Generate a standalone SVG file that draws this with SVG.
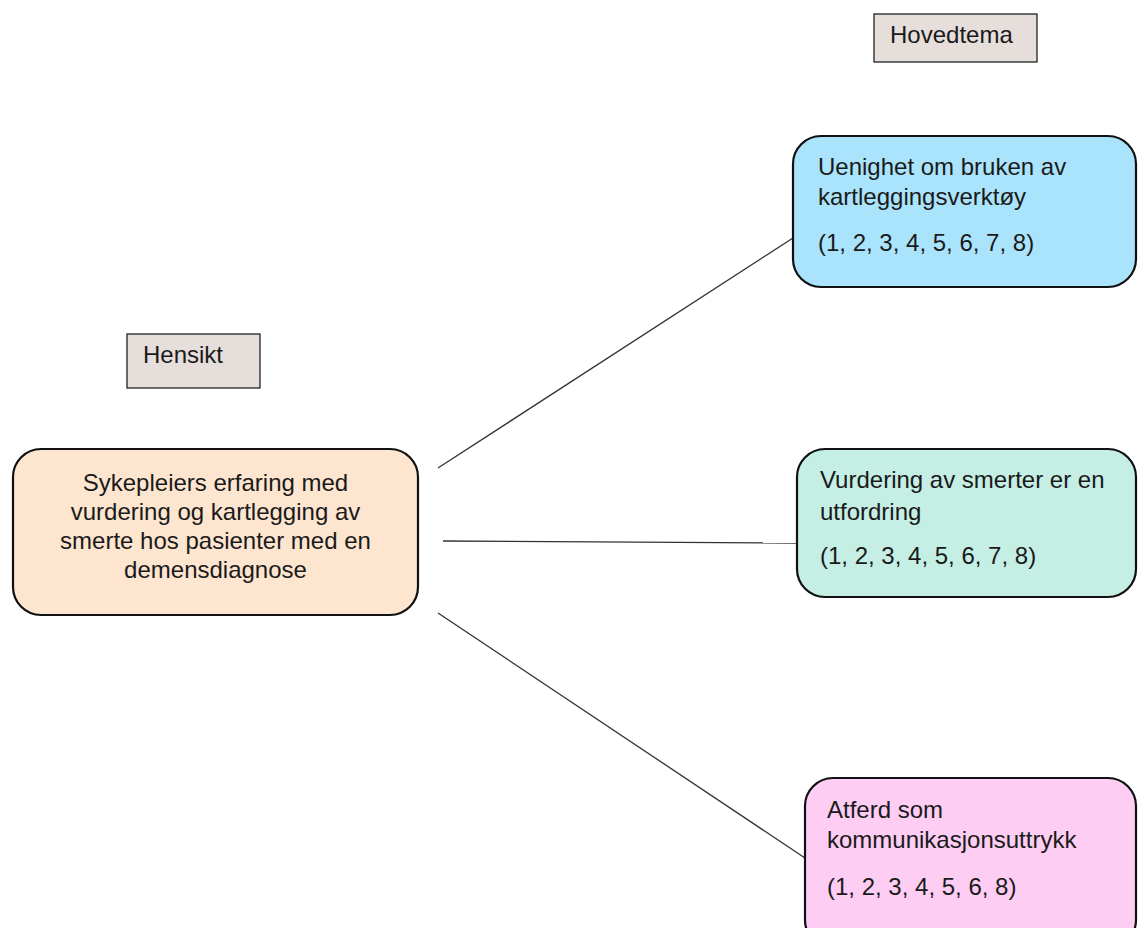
<svg xmlns="http://www.w3.org/2000/svg" width="1138" height="928" viewBox="0 0 1138 928">
<style>
.t{font-family:"Liberation Sans",Arial,sans-serif;font-size:24px;fill:#1a1a1a}
.lbl{fill:#e6dedb;stroke:#222;stroke-width:1.3}
.node{stroke:#111;stroke-width:2.2}
.conn line{stroke:#333;stroke-width:1.3}
</style>
<rect width="1138" height="928" fill="#fff"/>
<g class="conn" id="connectors">
<line x1="438" y1="468" x2="793" y2="238"/>
<line x1="443" y1="541" x2="797" y2="543"/>
<line x1="438" y1="613" x2="805" y2="858"/>
</g>
<g id="hovedtema">
<rect class="lbl" x="874" y="14" width="163" height="48"/>
<text class="t" x="890" y="43">Hovedtema</text>
</g>
<g id="hensikt">
<rect class="lbl" x="127" y="334" width="133" height="54"/>
<text class="t" x="143" y="363">Hensikt</text>
</g>
<g id="main">
<rect class="node" x="13" y="449" width="405" height="166" rx="28" fill="#fde5cf"/>
<text class="t" text-anchor="middle" x="215.5" y="491">Sykepleiers erfaring med</text>
<text class="t" text-anchor="middle" x="215.5" y="520">vurdering og kartlegging av</text>
<text class="t" text-anchor="middle" x="215.5" y="549">smerte hos pasienter med en</text>
<text class="t" text-anchor="middle" x="215.5" y="578">demensdiagnose</text>
</g>
<g id="tema1">
<rect class="node" x="793" y="136" width="343" height="151" rx="28" fill="#aae4fc"/>
<text class="t" x="818" y="175">Uenighet om bruken av</text>
<text class="t" x="818" y="205">kartleggingsverktøy</text>
<text class="t" x="818" y="251">(1, 2, 3, 4, 5, 6, 7, 8)</text>
</g>
<g id="tema2">
<rect class="node" x="797" y="449" width="339" height="148" rx="28" fill="#c5efe5"/>
<text class="t" x="820" y="488">Vurdering av smerter er en</text>
<text class="t" x="820" y="520">utfordring</text>
<text class="t" x="820" y="564">(1, 2, 3, 4, 5, 6, 7, 8)</text>
</g>
<g id="tema3">
<rect class="node" x="805" y="778" width="331" height="170" rx="28" fill="#fdcdf4"/>
<text class="t" x="827" y="818">Atferd som</text>
<text class="t" x="827" y="848">kommunikasjonsuttrykk</text>
<text class="t" x="827" y="895">(1, 2, 3, 4, 5, 6, 8)</text>
</g>
</svg>
